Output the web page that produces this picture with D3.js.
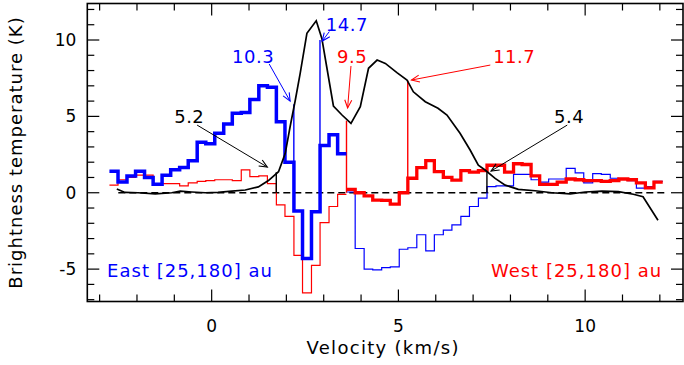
<!DOCTYPE html>
<html>
<head>
<meta charset="utf-8">
<script src="https://cdn.jsdelivr.net/npm/d3@7"></script>
<style>
  body { margin: 0; background: #fff; }
  text { font-family: "DejaVu Sans", sans-serif; }
</style>
</head>
<body>
<script>
// channel centres (km/s)
const velocity = [-2.62, -2.39, -2.15, -1.92, -1.68, -1.45, -1.21, -0.98, -0.74, -0.51,
  -0.27, -0.04, 0.20, 0.44, 0.67, 0.91, 1.14, 1.38, 1.61, 1.85,
  2.08, 2.32, 2.55, 2.79, 3.02, 3.26, 3.49, 3.73, 3.96, 4.20,
  4.43, 4.67, 4.90, 5.14, 5.37, 5.61, 5.85, 6.08, 6.32, 6.55,
  6.79, 7.02, 7.26, 7.49, 7.73, 7.96, 8.20, 8.43, 8.67, 8.90,
  9.14, 9.37, 9.61, 9.85, 10.08, 10.32, 10.55, 10.79, 11.02, 11.26,
  11.49, 11.73, 11.96];
const chanWidth = 0.235;

// East [25,180] au (blue)
const eastK = [1.4, 0.7, 1.1, 1.4, 1.0, 0.55, 1.15, 1.5, 1.65, 2.1,
  3.3, 3.2, 3.9, 4.5, 5.2, 5.25, 6.1, 7.0, 6.9, 4.65,
  2.0, -1.2, -4.3, -1.25, 3.1, 3.8, 2.55, 0.05, -3.65, -5.0,
  -5.05, -4.9, -4.85, -3.7, -3.6, -2.75, -3.8, -2.75, -2.45, -2.1,
  -1.55, -0.9, -0.35, 0.4, 0.45, 0.45, 1.2, 1.2, 0.85, 0.7,
  0.9, 0.9, 1.6, 1.3, 0.65, 1.25, 1.2, 0.95, 0.9, 0.8,
  0.3, 0.4, 0.75];

// West [25,180] au (red)
const westK = [0.5, 0.85, 1.0, 1.15, 1.15, 0.6, 0.6, 0.6, 0.45, 0.65,
  0.75, 0.8, 0.85, 0.85, 0.8, 1.5, 1.05, 1.1, 0.6, -0.8,
  -1.55, -4.1, -6.55, -4.75, -1.95, -0.9, -0.1, 0.22, 0.0, -0.2,
  -0.48, -0.5, -0.74, 0.0, 0.95, 1.65, 2.1, 1.38, 1.0, 0.83,
  1.45, 1.35, 1.45, 1.8, 1.8, 1.35, 1.9, 1.85, 1.1, 0.55,
  0.55, 0.7, 0.9, 0.85, 0.8, 0.8, 0.75, 0.8, 0.9, 0.85,
  0.65, 0.32, 0.7];

// index where thick/thin switch
const splitIndex = 27;

// black profile
const profileV = [-2.54, -2.32, -1.97, -1.51, -1.07, -0.84, -0.53, -0.17, 0.17, 0.54,
  0.9, 1.25, 1.52, 1.79, 1.97, 2.10, 2.24, 2.37, 2.55, 2.80,
  2.95, 3.08, 3.26, 3.49, 3.73, 3.98, 4.20, 4.43, 4.65, 4.96,
  5.23, 5.40, 5.72, 6.06, 6.30, 6.65, 6.92, 7.14, 7.32, 7.59,
  7.86, 8.21, 8.66, 9.11, 9.60, 10.0, 10.45, 10.89, 11.29, 11.55, 11.95];
const profileK = [0.25, 0.02, 0.0, -0.08, 0.0, 0.1, 0.05, 0.0, 0.02, 0.1,
  0.18, 0.38, 0.8, 1.38, 2.58, 4.32, 6.07, 7.82, 10.44, 11.26,
  10.1, 8.25, 5.68, 5.09, 4.54, 5.63, 8.15, 8.69, 8.47, 7.86,
  7.38, 6.61, 5.96, 5.53, 5.09, 3.89, 2.8, 1.81, 1.49, 0.94,
  0.5, 0.22, 0.13, 0.0, -0.08, 0.05, 0.11, 0.07, -0.1, -0.26, -1.8];

// vertical markers at channel edges
const markerV = [1.73, 2.20, 2.90, 3.61, 5.25, 7.37];
const markerTop = [1.35, 5.8, 10.0, 4.72, 7.35, 1.5];
const markerColor = ['black', 'blue', 'blue', 'red', 'red', 'black'];

// annotations: label, colour, text position, arrow from -> to
const noteText = ['10.3', '14.7', '9.5', '11.7', '5.2', '5.4'];
const noteColor = ['blue', 'blue', 'red', 'red', 'black', 'black'];
const notePos = [[1.11, 8.49], [3.62, 10.6], [3.76, 8.49], [8.10, 8.49], [-0.6, 4.56], [9.57, 4.56]];
const noteFrom = [[1.54, 8.43], [3.15, 10.55], [3.73, 8.3], [7.46, 8.36], [-0.39, 4.43], [9.52, 4.43]];
const noteTo = [[2.10, 6.0], [2.96, 9.93], [3.64, 5.55], [5.35, 7.38], [1.49, 1.68], [7.48, 1.42]];

const xTicks = [0, 5, 10];
const yTicks = [-5, 0, 5, 10];

const draw = () => {
    const width = 684, height = 365;
    const left = 87.3, right = 683, top = 3.5, bottom = 301.5;

    const svg = d3.select('body').append('svg')
        .attr('width', width).attr('height', height);

    const x = d3.scaleLinear().domain([-3.33, 12.62]).range([left, right]);
    const y = d3.scaleLinear().domain([-7.12, 12.39]).range([bottom, top]);

    // arrow head
    svg.append('defs').selectAll('marker')
        .data(['blue', 'red', 'black'])
        .enter().append('marker')
        .attr('id', d => 'head-' + d)
        .attr('viewBox', '-10 -6 12 12')
        .attr('refX', 0).attr('refY', 0)
        .attr('markerUnits', 'userSpaceOnUse')
        .attr('markerWidth', 12).attr('markerHeight', 12)
        .attr('orient', 'auto')
        .append('path')
        .attr('d', 'M-8,-3.5L0,0L-8,3.5')
        .attr('fill', 'none')
        .attr('stroke', d => d)
        .attr('stroke-width', 1.1);

    // zero line
    svg.append('line')
        .attr('x1', x(-2.5)).attr('x2', x(12.12))
        .attr('y1', y(0)).attr('y2', y(0))
        .attr('stroke', 'black').attr('stroke-width', 1.5)
        .attr('stroke-dasharray', '7,4');

    const step = d3.line()
        .x(d => x(d[0])).y(d => y(d[1]))
        .curve(d3.curveStepAfter);

    const histPts = (vals, a, b) => {
        const pts = [];
        for (let i = a; i < b; i++) pts.push([velocity[i] - chanWidth / 2, vals[i]]);
        pts.push([velocity[b - 1] + chanWidth / 2, vals[b - 1]]);
        return pts;
    };
    const n = velocity.length;

    const hist = (vals, a, b, color, w) => svg.append('path')
        .attr('d', step(histPts(vals, a, b)))
        .attr('fill', 'none').attr('stroke', color)
        .attr('stroke-width', w).attr('stroke-linejoin', 'miter');

    hist(westK, 0, splitIndex, 'red', 1.2);
    hist(eastK, splitIndex, n, 'blue', 1.2);

    // markers
    svg.append('g').selectAll('line')
        .data(markerV)
        .enter().append('line')
        .attr('x1', d => x(d)).attr('x2', d => x(d))
        .attr('y1', (d, i) => y(markerTop[i])).attr('y2', y(0))
        .attr('stroke', (d, i) => markerColor[i])
        .attr('stroke-width', 1.4);

    hist(westK, splitIndex, n, 'red', 3.3);
    hist(eastK, 0, splitIndex, 'blue', 3.5);

    // black profile
    svg.append('path')
        .attr('d', d3.line().x(d => x(d)).y((d, i) => y(profileK[i]))(profileV))
        .attr('fill', 'none').attr('stroke', 'black').attr('stroke-width', 1.7);

    // annotation arrows
    svg.append('g').selectAll('line')
        .data(noteFrom)
        .enter().append('line')
        .attr('x1', d => x(d[0])).attr('y1', d => y(d[1]))
        .attr('x2', (d, i) => x(noteTo[i][0])).attr('y2', (d, i) => y(noteTo[i][1]))
        .attr('stroke', (d, i) => noteColor[i]).attr('stroke-width', 1)
        .attr('marker-end', (d, i) => `url(#head-${noteColor[i]})`);

    svg.append('g').selectAll('text')
        .data(noteText)
        .enter().append('text')
        .attr('x', (d, i) => x(notePos[i][0])).attr('y', (d, i) => y(notePos[i][1]))
        .attr('text-anchor', 'middle')
        .attr('fill', (d, i) => noteColor[i])
        .style('font-size', '18px').style('letter-spacing', '0.5px')
        .text(d => d);

    svg.append('text')
        .attr('x', x(-2.8)).attr('y', y(-5.52))
        .attr('fill', 'blue').style('font-size', '18px').style('letter-spacing', '1px')
        .text('East [25,180] au');
    svg.append('text')
        .attr('x', x(12.06)).attr('y', y(-5.52))
        .attr('text-anchor', 'end')
        .attr('fill', 'red').style('font-size', '18px').style('letter-spacing', '1px')
        .text('West [25,180] au');

    // frame and ticks
    const minorX = d3.range(-3, 13, 1), minorY = d3.range(-7, 13, 1);
    const tk = svg.append('g').attr('stroke', 'black').attr('stroke-width', 1.2);
    minorX.forEach(v => {
        const len = v % 5 === 0 ? 12 : 7;
        tk.append('line').attr('x1', x(v)).attr('x2', x(v)).attr('y1', bottom).attr('y2', bottom - len);
        tk.append('line').attr('x1', x(v)).attr('x2', x(v)).attr('y1', top).attr('y2', top + len);
    });
    minorY.forEach(v => {
        const len = v % 5 === 0 ? 12 : 7;
        tk.append('line').attr('x1', left).attr('x2', left + len).attr('y1', y(v)).attr('y2', y(v));
        tk.append('line').attr('x1', right).attr('x2', right - len).attr('y1', y(v)).attr('y2', y(v));
    });
    svg.append('rect')
        .attr('x', left).attr('y', top)
        .attr('width', right - left).attr('height', bottom - top)
        .attr('fill', 'none').attr('stroke', 'black').attr('stroke-width', 1.6);

    svg.append('g').selectAll('text')
        .data(xTicks).enter().append('text')
        .attr('x', d => x(d)).attr('y', bottom + 30)
        .attr('text-anchor', 'middle').style('font-size', '17px')
        .text(d => d);
    svg.append('g').selectAll('text')
        .data(yTicks).enter().append('text')
        .attr('x', left - 11).attr('y', d => y(d) + 6)
        .attr('text-anchor', 'end').style('font-size', '17px')
        .text(d => d);

    svg.append('text')
        .attr('x', (left + right) / 2 - 2).attr('y', 354)
        .attr('text-anchor', 'middle').style('font-size', '18px').style('letter-spacing', '1.3px')
        .text('Velocity (km/s)');
    svg.append('text')
        .attr('transform', `translate(22,${(top + bottom) / 2}) rotate(-90)`)
        .attr('text-anchor', 'middle').style('font-size', '18px').style('letter-spacing', '1px')
        .text('Brightness temperature (K)');
}

draw();
</script>
</body>
</html>
